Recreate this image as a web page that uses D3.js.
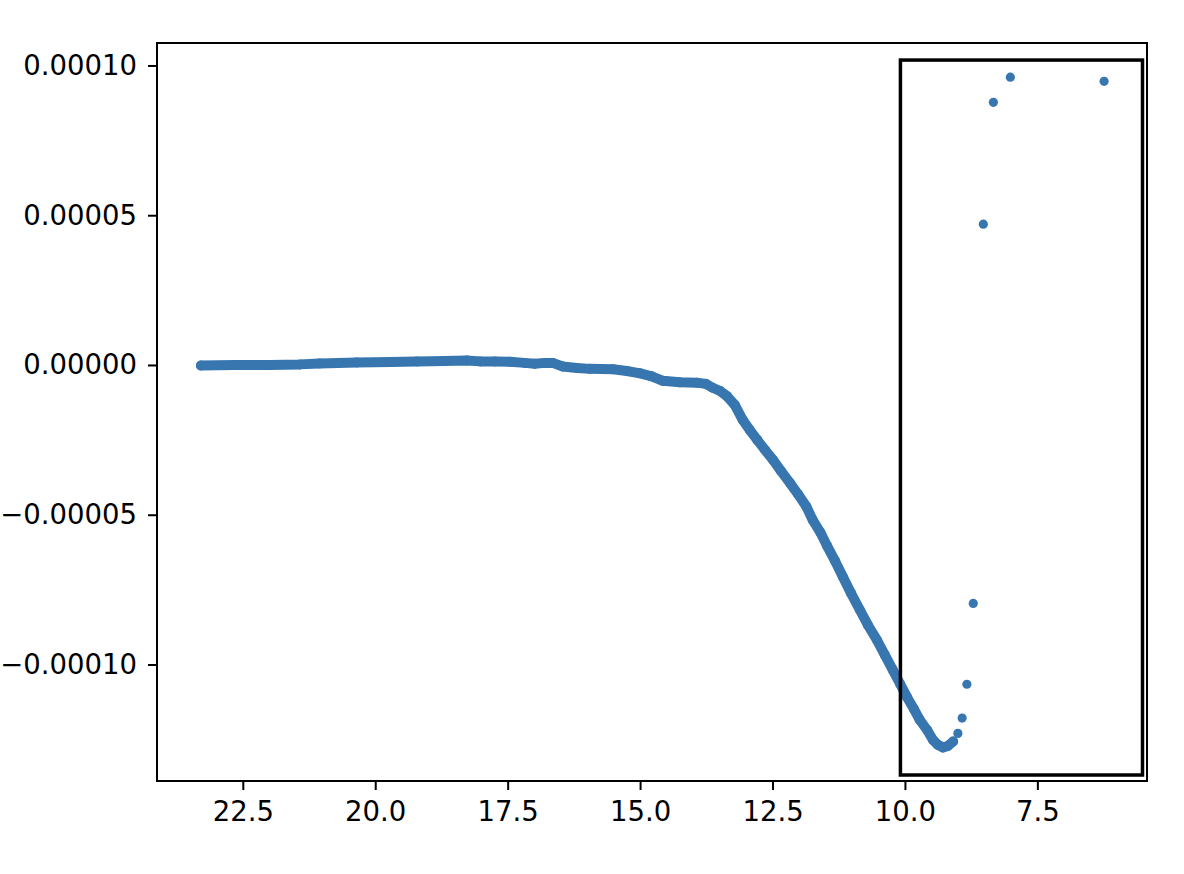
<!DOCTYPE html>
<html>
<head>
<meta charset="utf-8">
<script src="https://cdn.jsdelivr.net/npm/d3@7"></script>
<style>
	body { margin: 0; background: #fff; }
	svg { display: block; }
	text { font-family: "DejaVu Sans", sans-serif; }
</style>
</head>
<body>
<div id="chart"></div>
<script>
//dense part of the curve
var curveX = [23.29, 22.65, 21.99, 21.42, 21.05, 20.35, 19.72, 19.21, 18.69, 18.27,
	18.02, 17.74, 17.46, 17.18, 16.99, 16.80, 16.65, 16.46, 16.19, 15.95,
	15.51, 15.25, 15.00, 14.78, 14.57, 14.25, 13.93, 13.76, 13.63, 13.49,
	13.36, 13.21, 13.06, 12.93, 12.79, 12.64, 12.49, 12.34, 12.17, 12.02,
	11.86, 11.74, 11.60, 11.47, 11.32, 11.17, 11.02, 10.85, 10.70, 10.53,
	10.38, 10.23, 10.09, 9.96, 9.83, 9.72, 9.58, 9.47, 9.38, 9.28,
	9.19, 9.09];
var curveY = [-0.2e-6, 0, 0, 0.2e-6, 0.5e-6, 0.8e-6, 1.0e-6, 1.2e-6, 1.3e-6, 1.5e-6,
	1.2e-6, 1.2e-6, 1.1e-6, 0.7e-6, 0.4e-6, 0.7e-6, 0.7e-6, -0.5e-6, -1.0e-6, -1.3e-6,
	-1.4e-6, -2.0e-6, -2.8e-6, -3.8e-6, -5.3e-6, -5.8e-6, -5.9e-6, -6.3e-6, -7.6e-6, -8.7e-6,
	-10.4e-6, -13.4e-6, -18.4e-6, -21.7e-6, -25.0e-6, -28.4e-6, -31.7e-6, -35.4e-6, -39.4e-6, -43.1e-6,
	-47.3e-6, -51.8e-6, -55.8e-6, -60.4e-6, -65.4e-6, -70.8e-6, -76.1e-6, -81.8e-6, -86.8e-6, -91.8e-6,
	-96.8e-6, -101.8e-6, -106.5e-6, -110.9e-6, -114.9e-6, -118.5e-6, -121.9e-6, -125.2e-6, -126.8e-6, -127.7e-6,
	-127.2e-6, -125.7e-6];

//scattered points at the end
var sparseX = [9.00, 8.92, 8.83, 8.71, 8.52, 8.33, 8.01, 6.24];
var sparseY = [-123.0e-6, -117.9e-6, -106.6e-6, -79.6e-6, 47.0e-6, 87.7e-6, 96.1e-6, 94.7e-6];

//highlight box corners (x0, x1, y0, y1)
var boxX = [10.085, 5.515];
var boxY = [0.0001018, -0.0001369];

var xTicks = [22.5, 20.0, 17.5, 15.0, 12.5, 10.0, 7.5];
var yTicks = [-0.0001, -0.00005, 0, 0.00005, 0.0001];

(function () {

	"use strict";

	var width = 1184,
		height = 874,
		left = 157,
		right = 1147,
		top = 43,
		bottom = 781,
		color = '#3876b0';

	var svg = d3.select('#chart').append('svg')
		.attr('width', width)
		.attr('height', height);

	var x = d3.scaleLinear().domain([24.12, 5.43]).range([left, right]);
	var y = d3.scaleLinear().domain([-0.0001389, 0.0001075]).range([bottom, top]);

	var pts = curveX.map(function (d, i) { return [d, curveY[i]]; });

	//dense band, drawn as a thick stroke through the points
	svg.append('path')
		.datum(pts)
		.attr('d', d3.line().x(function (d) { return x(d[0]); }).y(function (d) { return y(d[1]); }))
		.attr('fill', 'none')
		.attr('stroke', color)
		.attr('stroke-width', 10)
		.attr('stroke-linecap', 'round')
		.attr('stroke-linejoin', 'round');

	svg.selectAll('circle.dense')
		.data(pts)
		.enter().append('circle')
		.attr('class', 'dense')
		.attr('cx', function (d) { return x(d[0]); })
		.attr('cy', function (d) { return y(d[1]); })
		.attr('r', 5)
		.attr('fill', color);

	svg.selectAll('circle.sparse')
		.data(sparseX)
		.enter().append('circle')
		.attr('class', 'sparse')
		.attr('cx', function (d) { return x(d); })
		.attr('cy', function (d, i) { return y(sparseY[i]); })
		.attr('r', 4.6)
		.attr('fill', color);

	//highlight box
	svg.append('rect')
		.attr('x', x(boxX[0]))
		.attr('y', y(boxY[0]))
		.attr('width', x(boxX[1]) - x(boxX[0]))
		.attr('height', y(boxY[1]) - y(boxY[0]))
		.attr('fill', 'none')
		.attr('stroke', '#000')
		.attr('stroke-width', 3.5);

	//axes
	var xAxis = d3.axisBottom(x).tickValues(xTicks).tickFormat(d3.format('.1f')).tickSize(9).tickPadding(11);
	var yAxis = d3.axisLeft(y).tickValues(yTicks).tickFormat(d3.format('.5f')).tickSize(9).tickPadding(11);

	var gx = svg.append('g').attr('transform', 'translate(0,' + bottom + ')').call(xAxis);
	var gy = svg.append('g').attr('transform', 'translate(' + left + ',0)').call(yAxis);

	[gx, gy].forEach(function (g) {
		g.select('.domain').remove();
		g.selectAll('.tick line').attr('stroke', '#000').attr('stroke-width', 2);
		g.selectAll('.tick text').attr('fill', '#000').style('font-size', '27.5px');
	});

	//frame
	svg.append('rect')
		.attr('x', left)
		.attr('y', top)
		.attr('width', right - left)
		.attr('height', bottom - top)
		.attr('fill', 'none')
		.attr('stroke', '#000')
		.attr('stroke-width', 2);

}).call(this);
</script>
</body>
</html>
